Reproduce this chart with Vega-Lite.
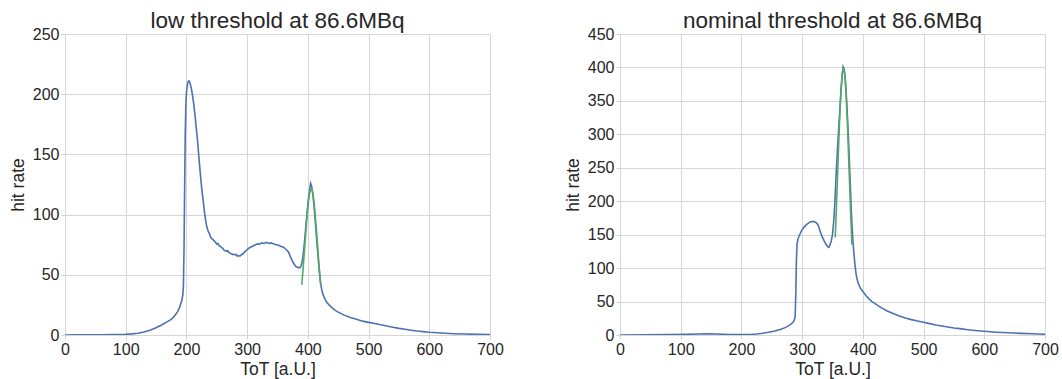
{
  "$schema": "https://vega.github.io/schema/vega-lite/v6.json",
  "background": "white",
  "padding": {"left": 9, "top": 9, "right": 2, "bottom": 2},
  "spacing": 60,
  "config": {
    "font": "Liberation Sans",
    "view": {"stroke": null},
    "title": {"fontSize": 22.5, "fontWeight": "normal", "color": "#262626", "offset": -6, "anchor": "middle"},
    "axis": {
      "grid": true,
      "gridColor": "#d6d6d6",
      "gridWidth": 1,
      "domain": false,
      "ticks": true,
      "tickColor": "#d0d0d0",
      "tickSize": 4,
      "labelFontSize": 16,
      "labelColor": "#262626",
      "labelPadding": 2,
      "labelFlush": false,
      "labelOverlap": false,
      "titleFontSize": 17.5,
      "titleFontWeight": "normal",
      "titleColor": "#262626",
      "titlePadding": 5
    },
    "axisX": {"titlePadding": 3},
    "line": {"strokeWidth": 1.6, "interpolate": "linear"}
  },
  "datasets": {
    "low": [
      {"tot": 0, "rate": 0, "series": "data"},
      {"tot": 20, "rate": 0.1, "series": "data"},
      {"tot": 40, "rate": 0.1, "series": "data"},
      {"tot": 60, "rate": 0.2, "series": "data"},
      {"tot": 80, "rate": 0.3, "series": "data"},
      {"tot": 100, "rate": 0.6, "series": "data"},
      {"tot": 110, "rate": 0.9, "series": "data"},
      {"tot": 120, "rate": 1.5, "series": "data"},
      {"tot": 130, "rate": 2.5, "series": "data"},
      {"tot": 140, "rate": 4, "series": "data"},
      {"tot": 150, "rate": 6, "series": "data"},
      {"tot": 160, "rate": 8.5, "series": "data"},
      {"tot": 170, "rate": 11.5, "series": "data"},
      {"tot": 175, "rate": 13, "series": "data"},
      {"tot": 180, "rate": 15.5, "series": "data"},
      {"tot": 185, "rate": 19, "series": "data"},
      {"tot": 188, "rate": 22, "series": "data"},
      {"tot": 190, "rate": 25, "series": "data"},
      {"tot": 192, "rate": 28, "series": "data"},
      {"tot": 194, "rate": 33, "series": "data"},
      {"tot": 195, "rate": 40, "series": "data"},
      {"tot": 196, "rate": 70, "series": "data"},
      {"tot": 197, "rate": 120, "series": "data"},
      {"tot": 198, "rate": 165, "series": "data"},
      {"tot": 199, "rate": 190, "series": "data"},
      {"tot": 200, "rate": 201, "series": "data"},
      {"tot": 201, "rate": 206, "series": "data"},
      {"tot": 202, "rate": 209, "series": "data"},
      {"tot": 203, "rate": 210.5, "series": "data"},
      {"tot": 204, "rate": 211, "series": "data"},
      {"tot": 205, "rate": 210.5, "series": "data"},
      {"tot": 206, "rate": 209, "series": "data"},
      {"tot": 208, "rate": 205, "series": "data"},
      {"tot": 210, "rate": 199, "series": "data"},
      {"tot": 212, "rate": 192, "series": "data"},
      {"tot": 214, "rate": 183, "series": "data"},
      {"tot": 216, "rate": 173, "series": "data"},
      {"tot": 218, "rate": 163, "series": "data"},
      {"tot": 220, "rate": 151, "series": "data"},
      {"tot": 222, "rate": 139, "series": "data"},
      {"tot": 224, "rate": 128, "series": "data"},
      {"tot": 226, "rate": 118, "series": "data"},
      {"tot": 228, "rate": 110, "series": "data"},
      {"tot": 230, "rate": 101, "series": "data"},
      {"tot": 232, "rate": 94, "series": "data"},
      {"tot": 234, "rate": 89, "series": "data"},
      {"tot": 236, "rate": 86, "series": "data"},
      {"tot": 238, "rate": 84, "series": "data"},
      {"tot": 240, "rate": 81, "series": "data"},
      {"tot": 242, "rate": 80, "series": "data"},
      {"tot": 244, "rate": 79, "series": "data"},
      {"tot": 246, "rate": 78, "series": "data"},
      {"tot": 248, "rate": 77, "series": "data"},
      {"tot": 250, "rate": 75.5, "series": "data"},
      {"tot": 252, "rate": 76, "series": "data"},
      {"tot": 254, "rate": 74, "series": "data"},
      {"tot": 256, "rate": 73.5, "series": "data"},
      {"tot": 258, "rate": 72.5, "series": "data"},
      {"tot": 260, "rate": 72, "series": "data"},
      {"tot": 262, "rate": 70.5, "series": "data"},
      {"tot": 264, "rate": 70, "series": "data"},
      {"tot": 266, "rate": 69.5, "series": "data"},
      {"tot": 268, "rate": 70, "series": "data"},
      {"tot": 270, "rate": 68.5, "series": "data"},
      {"tot": 272, "rate": 68, "series": "data"},
      {"tot": 274, "rate": 67.5, "series": "data"},
      {"tot": 276, "rate": 67, "series": "data"},
      {"tot": 278, "rate": 67, "series": "data"},
      {"tot": 280, "rate": 66.5, "series": "data"},
      {"tot": 282, "rate": 67, "series": "data"},
      {"tot": 284, "rate": 65.5, "series": "data"},
      {"tot": 286, "rate": 66, "series": "data"},
      {"tot": 288, "rate": 65.5, "series": "data"},
      {"tot": 290, "rate": 66.5, "series": "data"},
      {"tot": 292, "rate": 67, "series": "data"},
      {"tot": 294, "rate": 68, "series": "data"},
      {"tot": 296, "rate": 69, "series": "data"},
      {"tot": 298, "rate": 70, "series": "data"},
      {"tot": 300, "rate": 71, "series": "data"},
      {"tot": 304, "rate": 72.5, "series": "data"},
      {"tot": 308, "rate": 73.5, "series": "data"},
      {"tot": 312, "rate": 74.5, "series": "data"},
      {"tot": 316, "rate": 75.5, "series": "data"},
      {"tot": 320, "rate": 75.5, "series": "data"},
      {"tot": 324, "rate": 76.5, "series": "data"},
      {"tot": 328, "rate": 76, "series": "data"},
      {"tot": 332, "rate": 77, "series": "data"},
      {"tot": 336, "rate": 76, "series": "data"},
      {"tot": 340, "rate": 76.5, "series": "data"},
      {"tot": 344, "rate": 75.5, "series": "data"},
      {"tot": 348, "rate": 75, "series": "data"},
      {"tot": 352, "rate": 74.5, "series": "data"},
      {"tot": 356, "rate": 73.5, "series": "data"},
      {"tot": 360, "rate": 73, "series": "data"},
      {"tot": 364, "rate": 71, "series": "data"},
      {"tot": 368, "rate": 69, "series": "data"},
      {"tot": 372, "rate": 64, "series": "data"},
      {"tot": 376, "rate": 60, "series": "data"},
      {"tot": 380, "rate": 57, "series": "data"},
      {"tot": 384, "rate": 56, "series": "data"},
      {"tot": 387, "rate": 56, "series": "data"},
      {"tot": 389, "rate": 57.5, "series": "data"},
      {"tot": 391, "rate": 62, "series": "data"},
      {"tot": 393, "rate": 70, "series": "data"},
      {"tot": 395, "rate": 80, "series": "data"},
      {"tot": 397, "rate": 92, "series": "data"},
      {"tot": 399, "rate": 103, "series": "data"},
      {"tot": 401, "rate": 113, "series": "data"},
      {"tot": 403, "rate": 121, "series": "data"},
      {"tot": 404.5, "rate": 126, "series": "data"},
      {"tot": 406, "rate": 124, "series": "data"},
      {"tot": 408, "rate": 118, "series": "data"},
      {"tot": 410, "rate": 108, "series": "data"},
      {"tot": 412, "rate": 96, "series": "data"},
      {"tot": 414, "rate": 83, "series": "data"},
      {"tot": 416, "rate": 70, "series": "data"},
      {"tot": 418, "rate": 58, "series": "data"},
      {"tot": 420, "rate": 47, "series": "data"},
      {"tot": 422, "rate": 40, "series": "data"},
      {"tot": 424, "rate": 35, "series": "data"},
      {"tot": 427, "rate": 31, "series": "data"},
      {"tot": 430, "rate": 28, "series": "data"},
      {"tot": 435, "rate": 25, "series": "data"},
      {"tot": 440, "rate": 22.5, "series": "data"},
      {"tot": 445, "rate": 20.5, "series": "data"},
      {"tot": 450, "rate": 19, "series": "data"},
      {"tot": 460, "rate": 16.5, "series": "data"},
      {"tot": 470, "rate": 14.5, "series": "data"},
      {"tot": 480, "rate": 13, "series": "data"},
      {"tot": 490, "rate": 11.5, "series": "data"},
      {"tot": 500, "rate": 10.5, "series": "data"},
      {"tot": 510, "rate": 9.5, "series": "data"},
      {"tot": 520, "rate": 8.5, "series": "data"},
      {"tot": 530, "rate": 7.5, "series": "data"},
      {"tot": 540, "rate": 6.5, "series": "data"},
      {"tot": 550, "rate": 5.5, "series": "data"},
      {"tot": 560, "rate": 4.8, "series": "data"},
      {"tot": 570, "rate": 4, "series": "data"},
      {"tot": 580, "rate": 3.3, "series": "data"},
      {"tot": 590, "rate": 2.8, "series": "data"},
      {"tot": 600, "rate": 2.3, "series": "data"},
      {"tot": 620, "rate": 1.6, "series": "data"},
      {"tot": 640, "rate": 1.1, "series": "data"},
      {"tot": 660, "rate": 0.8, "series": "data"},
      {"tot": 680, "rate": 0.5, "series": "data"},
      {"tot": 700, "rate": 0.3, "series": "data"},
      {"tot": 390, "rate": 41.7, "series": "fit"},
      {"tot": 392, "rate": 54.0, "series": "fit"},
      {"tot": 394, "rate": 67.4, "series": "fit"},
      {"tot": 396, "rate": 81.3, "series": "fit"},
      {"tot": 398, "rate": 94.6, "series": "fit"},
      {"tot": 400, "rate": 106.2, "series": "fit"},
      {"tot": 402, "rate": 115.1, "series": "fit"},
      {"tot": 404, "rate": 120.3, "series": "fit"},
      {"tot": 406, "rate": 121.4, "series": "fit"},
      {"tot": 408, "rate": 118.2, "series": "fit"},
      {"tot": 410, "rate": 111.0, "series": "fit"},
      {"tot": 412, "rate": 100.7, "series": "fit"},
      {"tot": 414, "rate": 88.1, "series": "fit"},
      {"tot": 416, "rate": 74.4, "series": "fit"},
      {"tot": 418, "rate": 60.6, "series": "fit"},
      {"tot": 420, "rate": 47.7, "series": "fit"},
      {"tot": 421, "rate": 41.7, "series": "fit"}
    ],
    "nominal": [
      {"tot": 0, "rate": 0, "series": "data"},
      {"tot": 40, "rate": 0.2, "series": "data"},
      {"tot": 80, "rate": 0.5, "series": "data"},
      {"tot": 110, "rate": 1, "series": "data"},
      {"tot": 130, "rate": 1.6, "series": "data"},
      {"tot": 145, "rate": 1.8, "series": "data"},
      {"tot": 160, "rate": 1.4, "series": "data"},
      {"tot": 180, "rate": 0.8, "series": "data"},
      {"tot": 200, "rate": 0.5, "series": "data"},
      {"tot": 215, "rate": 0.8, "series": "data"},
      {"tot": 225, "rate": 1.5, "series": "data"},
      {"tot": 235, "rate": 2.5, "series": "data"},
      {"tot": 245, "rate": 4, "series": "data"},
      {"tot": 255, "rate": 6, "series": "data"},
      {"tot": 265, "rate": 8.5, "series": "data"},
      {"tot": 272, "rate": 11, "series": "data"},
      {"tot": 278, "rate": 14, "series": "data"},
      {"tot": 282, "rate": 16.5, "series": "data"},
      {"tot": 285, "rate": 19, "series": "data"},
      {"tot": 287, "rate": 22, "series": "data"},
      {"tot": 288.5, "rate": 28, "series": "data"},
      {"tot": 289.5, "rate": 60, "series": "data"},
      {"tot": 290.5, "rate": 110, "series": "data"},
      {"tot": 291.5, "rate": 135, "series": "data"},
      {"tot": 293, "rate": 143, "series": "data"},
      {"tot": 295, "rate": 148, "series": "data"},
      {"tot": 298, "rate": 154, "series": "data"},
      {"tot": 301, "rate": 159, "series": "data"},
      {"tot": 304, "rate": 162, "series": "data"},
      {"tot": 307, "rate": 165, "series": "data"},
      {"tot": 310, "rate": 167, "series": "data"},
      {"tot": 313, "rate": 169, "series": "data"},
      {"tot": 316, "rate": 169.5, "series": "data"},
      {"tot": 318, "rate": 170, "series": "data"},
      {"tot": 321, "rate": 169, "series": "data"},
      {"tot": 323, "rate": 168, "series": "data"},
      {"tot": 326, "rate": 165, "series": "data"},
      {"tot": 328, "rate": 160, "series": "data"},
      {"tot": 330, "rate": 154, "series": "data"},
      {"tot": 333, "rate": 147, "series": "data"},
      {"tot": 336, "rate": 141, "series": "data"},
      {"tot": 339, "rate": 136, "series": "data"},
      {"tot": 342, "rate": 132, "series": "data"},
      {"tot": 344, "rate": 131, "series": "data"},
      {"tot": 346, "rate": 135, "series": "data"},
      {"tot": 348, "rate": 141, "series": "data"},
      {"tot": 350, "rate": 150, "series": "data"},
      {"tot": 352, "rate": 170, "series": "data"},
      {"tot": 354, "rate": 200, "series": "data"},
      {"tot": 356, "rate": 240, "series": "data"},
      {"tot": 358, "rate": 275, "series": "data"},
      {"tot": 360, "rate": 305, "series": "data"},
      {"tot": 362, "rate": 335, "series": "data"},
      {"tot": 364, "rate": 365, "series": "data"},
      {"tot": 366, "rate": 388, "series": "data"},
      {"tot": 367.5, "rate": 401, "series": "data"},
      {"tot": 369, "rate": 398, "series": "data"},
      {"tot": 371, "rate": 385, "series": "data"},
      {"tot": 373, "rate": 355, "series": "data"},
      {"tot": 375, "rate": 320, "series": "data"},
      {"tot": 377, "rate": 278, "series": "data"},
      {"tot": 379, "rate": 232, "series": "data"},
      {"tot": 381, "rate": 185, "series": "data"},
      {"tot": 383, "rate": 150, "series": "data"},
      {"tot": 385, "rate": 125, "series": "data"},
      {"tot": 387, "rate": 105, "series": "data"},
      {"tot": 389, "rate": 90, "series": "data"},
      {"tot": 392, "rate": 78, "series": "data"},
      {"tot": 396, "rate": 70, "series": "data"},
      {"tot": 400, "rate": 65, "series": "data"},
      {"tot": 405, "rate": 59, "series": "data"},
      {"tot": 410, "rate": 54, "series": "data"},
      {"tot": 415, "rate": 50, "series": "data"},
      {"tot": 420, "rate": 47, "series": "data"},
      {"tot": 430, "rate": 41, "series": "data"},
      {"tot": 440, "rate": 36, "series": "data"},
      {"tot": 450, "rate": 32, "series": "data"},
      {"tot": 460, "rate": 28.5, "series": "data"},
      {"tot": 470, "rate": 25.5, "series": "data"},
      {"tot": 480, "rate": 23, "series": "data"},
      {"tot": 490, "rate": 21, "series": "data"},
      {"tot": 500, "rate": 19, "series": "data"},
      {"tot": 510, "rate": 17, "series": "data"},
      {"tot": 520, "rate": 15, "series": "data"},
      {"tot": 530, "rate": 13.5, "series": "data"},
      {"tot": 540, "rate": 12, "series": "data"},
      {"tot": 550, "rate": 10.5, "series": "data"},
      {"tot": 560, "rate": 9.5, "series": "data"},
      {"tot": 570, "rate": 8.3, "series": "data"},
      {"tot": 580, "rate": 7.2, "series": "data"},
      {"tot": 590, "rate": 6.3, "series": "data"},
      {"tot": 600, "rate": 5.5, "series": "data"},
      {"tot": 620, "rate": 4.2, "series": "data"},
      {"tot": 640, "rate": 3.3, "series": "data"},
      {"tot": 660, "rate": 2.5, "series": "data"},
      {"tot": 680, "rate": 1.8, "series": "data"},
      {"tot": 700, "rate": 1.2, "series": "data"},
      {"tot": 354.5, "rate": 145.7, "series": "fit"},
      {"tot": 356, "rate": 180, "series": "fit"},
      {"tot": 358, "rate": 229.9, "series": "fit"},
      {"tot": 360, "rate": 280.6, "series": "fit"},
      {"tot": 362, "rate": 327.7, "series": "fit"},
      {"tot": 364, "rate": 366.1, "series": "fit"},
      {"tot": 366, "rate": 391.2, "series": "fit"},
      {"tot": 368, "rate": 400, "series": "fit"},
      {"tot": 370, "rate": 391.2, "series": "fit"},
      {"tot": 372, "rate": 366.1, "series": "fit"},
      {"tot": 374, "rate": 327.7, "series": "fit"},
      {"tot": 376, "rate": 280.6, "series": "fit"},
      {"tot": 378, "rate": 229.9, "series": "fit"},
      {"tot": 380, "rate": 180, "series": "fit"},
      {"tot": 382, "rate": 135, "series": "fit"}
    ]
  },
  "hconcat": [
    {
      "title": "low threshold at 86.6MBq",
      "width": 425,
      "height": 301,
      "data": {"name": "low"},
      "mark": {"type": "line", "clip": true},
      "encoding": {
        "x": {"field": "tot", "type": "quantitative", "title": "ToT [a.U.]",
              "scale": {"domain": [0, 700], "nice": false}, "axis": {"values": [0, 100, 200, 300, 400, 500, 600, 700]}},
        "y": {"field": "rate", "type": "quantitative", "title": "hit rate",
              "scale": {"domain": [0, 250], "nice": false}, "axis": {"values": [0, 50, 100, 150, 200, 250]}},
        "color": {"field": "series", "type": "nominal", "legend": null,
                  "scale": {"domain": ["data", "fit"], "range": ["#4c72b0", "#55a868"]}},
        "order": {"field": "tot", "type": "quantitative"}
      }
    },
    {
      "title": "nominal threshold at 86.6MBq",
      "width": 425,
      "height": 301,
      "data": {"name": "nominal"},
      "mark": {"type": "line", "clip": true},
      "encoding": {
        "x": {"field": "tot", "type": "quantitative", "title": "ToT [a.U.]",
              "scale": {"domain": [0, 700], "nice": false}, "axis": {"values": [0, 100, 200, 300, 400, 500, 600, 700]}},
        "y": {"field": "rate", "type": "quantitative", "title": "hit rate",
              "scale": {"domain": [0, 450], "nice": false}, "axis": {"values": [0, 50, 100, 150, 200, 250, 300, 350, 400, 450]}},
        "color": {"field": "series", "type": "nominal", "legend": null,
                  "scale": {"domain": ["data", "fit"], "range": ["#4c72b0", "#55a868"]}},
        "order": {"field": "tot", "type": "quantitative"}
      }
    }
  ]
}
